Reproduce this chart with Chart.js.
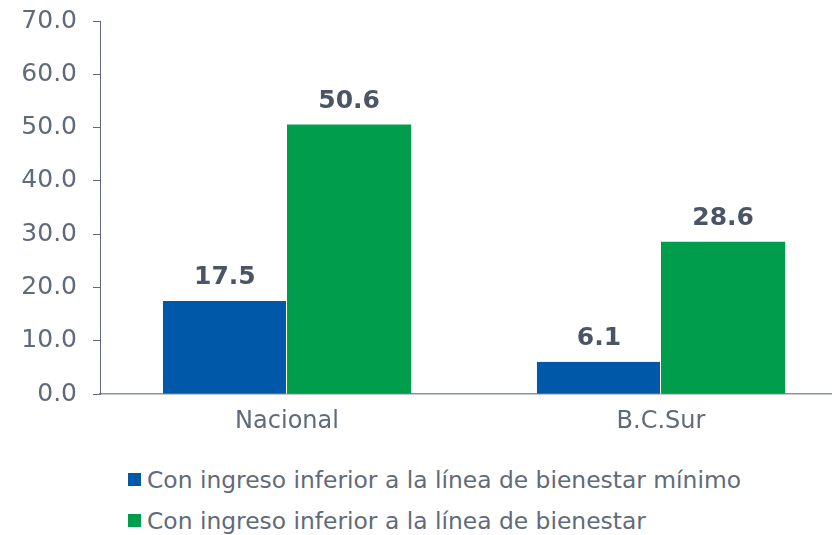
<!DOCTYPE html>
<html>
<head>
<meta charset="utf-8">
<script src="https://cdn.jsdelivr.net/npm/chart.js@4/dist/chart.umd.min.js"></script>
<style>
  html, body { margin: 0; padding: 0; background: #fff; overflow: hidden; width: 832px; height: 535px; }
  #wrap { position: absolute; left: 0; top: 0; width: 860px; height: 441px; }
  #legend { position: absolute; left: 128px; top: 459px; font-family: "DejaVu Sans", sans-serif; font-size: 23.4px; color: #5f6b7a; }
  #legend div { height: 41px; display: flex; align-items: center; }
  #legend span.box { display: inline-block; width: 13px; height: 13px; margin-right: 6px; }
</style>
</head>
<body>
<div id="wrap"><canvas id="myChart"></canvas></div>
<div id="legend"></div>
<script>
const categories = ['Nacional', 'B.C.Sur']
const seriesNames = [
  'Con ingreso inferior a la línea de bienestar mínimo',
  'Con ingreso inferior a la línea de bienestar'
]
const minimo = [17.5, 6.1]
const bienestar = [50.6, 28.6]
const colors = ['#0058a9', '#009e4c']

const textColor = '#5f6b7a'
const fontFamily = '"DejaVu Sans", sans-serif'

// values on top of each bar
const valueLabels = {
  id: 'valueLabels',
  afterDatasetsDraw(chart) {
    const ctx = chart.ctx
    ctx.save()
    ctx.font = 'bold 25px ' + fontFamily
    ctx.fillStyle = '#4b5565'
    ctx.textAlign = 'center'
    ctx.textBaseline = 'middle'
    chart.data.datasets.forEach((ds, i) => {
      chart.getDatasetMeta(i).data.forEach((bar, j) => {
        ctx.fillText(ds.data[j].toFixed(1), bar.x, bar.y - 23)
      })
    })
    ctx.restore()
  }
}

var ctx = document.getElementById('myChart').getContext('2d')
var myChart = new Chart(ctx, {
  type: 'bar',
  data: {
    labels: categories,
    datasets: [
      { label: seriesNames[0], data: minimo, backgroundColor: colors[0], borderColor: '#ffffff', borderWidth: { right: 1 } },
      { label: seriesNames[1], data: bienestar, backgroundColor: colors[1] }
    ]
  },
  options: {
    responsive: true,
    maintainAspectRatio: false,
    animation: false,
    layout: { padding: { top: 18, left: 0, right: 12, bottom: 0 } },
    datasets: { bar: { barPercentage: 1, categoryPercentage: 0.664 } },
    plugins: {
      legend: { display: false },
      tooltip: { enabled: false }
    },
    scales: {
      x: {
        grid: { display: false },
        border: { display: true, color: '#8a94a0', width: 1.5 },
        ticks: { color: textColor, font: { family: fontFamily, size: 24 }, padding: 5 }
      },
      y: {
        min: 0,
        max: 70,
        afterFit(scale) { scale.width = 100 },
        grid: { drawOnChartArea: false, drawTicks: true, tickLength: 7, color: '#5f6b7a' },
        border: { display: true, color: '#5f6b7a', width: 1 },
        ticks: {
          stepSize: 10,
          color: textColor,
          padding: 16,
          font: { family: fontFamily, size: 25, lineHeight: 0.4 },
          callback: v => v.toFixed(1)
        }
      }
    }
  },
  plugins: [valueLabels]
})

// legend in two left-aligned rows
const legend = document.getElementById('legend')
seriesNames.forEach((name, i) => {
  const row = document.createElement('div')
  row.innerHTML = '<span class="box" style="background:' + colors[i] + '"></span>' + name
  legend.appendChild(row)
})
</script>
</body>
</html>
